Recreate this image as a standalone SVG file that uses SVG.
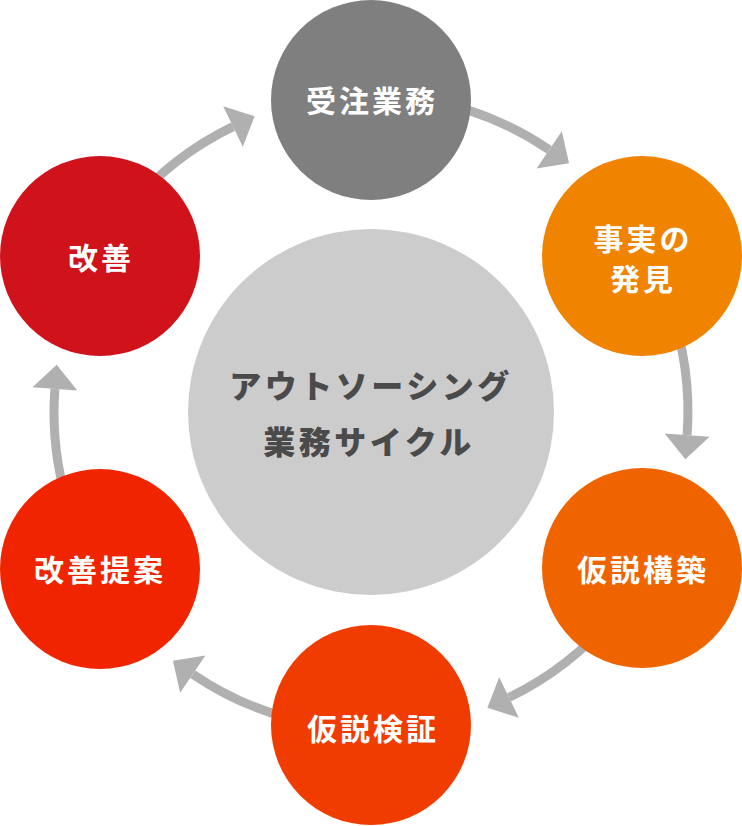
<svg xmlns="http://www.w3.org/2000/svg" width="742" height="826" viewBox="0 0 742 826">
<style>
.arc{fill:none;stroke:#b0b0b0;stroke-width:9;marker-end:url(#ah)}
.lbl{font-family:"Noto Sans CJK JP","Noto Sans CJK SC",sans-serif;font-weight:700;font-size:30px;letter-spacing:3px;fill:#ffffff;text-anchor:middle;dominant-baseline:central}
.ctr{font-family:"Noto Sans CJK JP","Noto Sans CJK SC",sans-serif;font-weight:900;font-size:32px;letter-spacing:3.5px;fill:#4a4a4a;text-anchor:middle;dominant-baseline:central}
</style>
<defs>
<marker id="ah" markerUnits="userSpaceOnUse" markerWidth="30" markerHeight="50" viewBox="0 0 30 50" refX="0" refY="25" orient="auto" overflow="visible">
<path d="M0,2.5 L24,25 L0,47.5 Z" fill="#b0b0b0"/>
</marker>
</defs>
<rect width="742" height="826" fill="#ffffff"/>
<g id="connectors">
<path class="arc" d="M128.2,208.2 A317,317 0 0 1 233.0,126.6"/>
<path class="arc" d="M426.0,99.8 A317,317 0 0 1 549.2,149.8"/>
<path class="arc" d="M668.9,303.6 A317,317 0 0 1 687.1,435.2"/>
<path class="arc" d="M613.8,615.8 A317,317 0 0 1 509.0,697.4"/>
<path class="arc" d="M316.0,724.2 A317,317 0 0 1 192.8,674.2"/>
<path class="arc" d="M73.1,520.4 A317,317 0 0 1 54.9,388.8"/>
</g>
<g id="center">
<circle cx="371" cy="412" r="183" fill="#cccccc"/>
<text class="ctr" x="371" y="384">アウトソーシング<tspan x="369" dy="56">業務サイクル</tspan></text>
</g>
<g id="n1">
<circle cx="371" cy="100" r="100" fill="#7f7f7f"/>
<text class="lbl" x="372" y="99">受注業務</text>
</g>
<g id="n2">
<circle cx="642" cy="256" r="100" fill="#f08300"/>
<text class="lbl" x="643" y="237">事実の<tspan x="643" dy="40">発見</tspan></text>
</g>
<g id="n3">
<circle cx="642" cy="568" r="100" fill="#f06400"/>
<text class="lbl" x="643" y="568">仮説構築</text>
</g>
<g id="n4">
<circle cx="371" cy="725" r="100" fill="#f03c00"/>
<text class="lbl" x="373" y="727">仮説検証</text>
</g>
<g id="n5">
<circle cx="100" cy="569" r="100" fill="#f02500"/>
<text class="lbl" x="100" y="568">改善提案</text>
</g>
<g id="n6">
<circle cx="100" cy="256" r="100" fill="#d0121b"/>
<text class="lbl" x="101" y="256">改善</text>
</g>
</svg>
